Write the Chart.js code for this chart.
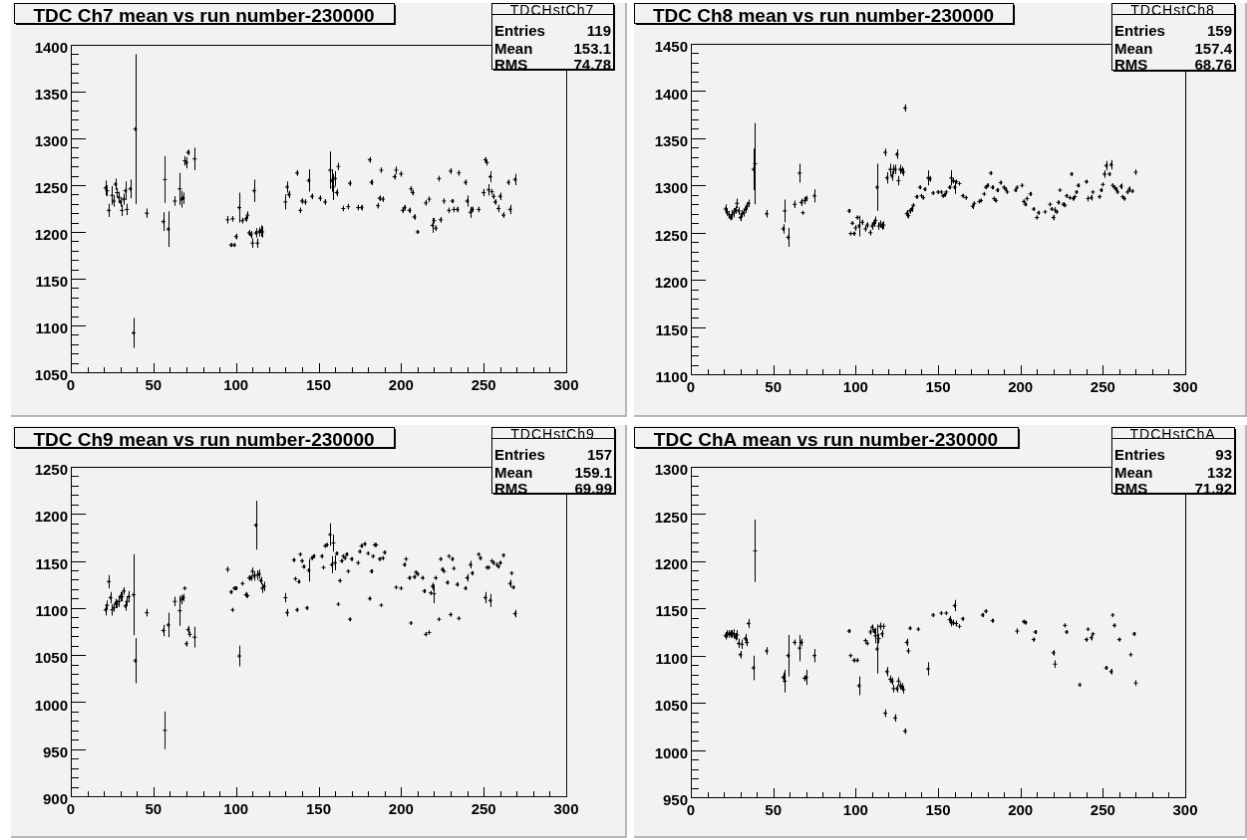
<!DOCTYPE html>
<html>
<head>
<meta charset="utf-8">
<title>TDC mean vs run number</title>
<script src="https://cdn.jsdelivr.net/npm/chart.js@4.4.1/dist/chart.umd.min.js"></script>
<style>
  body { margin: 0; background: #fff; width: 1247px; height: 840px; position: relative; overflow: hidden; }
  .pad { position: absolute; background: #f2f2f2; border-right: 2px solid #b8b8b8; border-bottom: 2px solid #b8b8b8; }
</style>
</head>
<body>
<canvas id="ch7" class="pad" width="616" height="414" style="left:11px;top:3px"></canvas>
<canvas id="ch8" class="pad" width="613" height="414" style="left:634px;top:3px"></canvas>
<canvas id="ch9" class="pad" width="616" height="413" style="left:11px;top:425px"></canvas>
<canvas id="chA" class="pad" width="613" height="413" style="left:634px;top:425px"></canvas>
<script>
// run number (minus 230000), mean TDC value, error on the mean
const ch7Run = [21, 22, 23, 25, 26, 27, 28, 29, 30, 31, 32, 33, 34, 36, 38, 39, 46, 56, 57, 59, 63, 66, 67, 68, 69, 70, 71, 75,
  95, 97, 98, 99, 100, 102, 104, 106, 107, 108, 109, 110, 111, 112, 113, 114, 115, 116, 130, 131, 132, 137, 139, 140, 142, 144, 146,
  151, 154, 157, 158, 159, 160, 161, 162, 165, 168, 169, 174, 176, 181, 182, 186, 187, 188, 189, 196, 197, 200, 201, 202, 205, 206,
  207, 208, 210, 215, 217, 219, 220, 221, 223, 224, 226, 229, 230, 231, 232, 234, 235, 239, 240, 242, 243, 247, 250, 251, 252, 253,
  254, 255, 256, 257, 259, 260, 262, 265, 266, 269];
const ch7Mean = [1247, 1244, 1223, 1239, 1233, 1251, 1242, 1237, 1232, 1223, 1235, 1244, 1224, 1246, 1092, 1310, 1220, 1211, 1256, 1203, 1233, 1246, 1235, 1236, 1276, 1274, 1285, 1278,
  1213, 1186, 1214, 1186, 1195, 1226, 1212, 1214, 1218, 1199, 1197, 1188, 1244, 1199, 1188, 1200, 1201, 1200, 1232, 1248, 1240, 1263, 1223, 1233, 1232, 1255, 1238,
  1236, 1232, 1266, 1255, 1248, 1257, 1242, 1270, 1225, 1227, 1252, 1226, 1226, 1277, 1253, 1228, 1236, 1266, 1235, 1259, 1266, 1262, 1223, 1226, 1223, 1246,
  1242, 1216, 1200, 1231, 1235, 1207, 1212, 1204, 1257, 1213, 1233, 1223, 1265, 1233, 1224, 1224, 1263, 1253, 1233, 1221, 1224, 1224, 1242, 1277, 1274, 1245,
  1259, 1243, 1238, 1232, 1225, 1238, 1218, 1253, 1224, 1256];
const ch7Err = [8, 6, 7, 10, 6, 6, 5, 6, 5, 6, 6, 10, 6, 10, 16, 80, 5, 10, 25, 19, 5, 17, 9, 6, 5, 6, 3, 12,
  4, 2, 3, 2, 3, 16, 3, 3, 4, 3, 4, 5, 12, 5, 5, 5, 6, 6, 8, 6, 4, 3, 3, 3, 3, 12, 3,
  3, 3, 20, 12, 14, 8, 4, 4, 3, 3, 3, 3, 3, 3, 3, 3, 3, 3, 3, 3, 4, 3, 3, 3, 3, 3,
  3, 3, 2, 3, 3, 8, 3, 3, 3, 3, 3, 3, 3, 2, 3, 3, 3, 3, 6, 6, 3, 3, 4, 3, 3, 6,
  6, 3, 3, 3, 4, 4, 3, 3, 5, 6];

const ch8Run = [21, 22, 23, 24, 25, 26, 27, 28, 29, 30, 31, 32, 33, 34, 35, 38, 39, 46, 56, 57, 59, 63, 66, 67, 68, 69, 70, 75,
  96, 97, 98, 99, 100, 101, 102, 104, 106, 107, 109, 110, 111, 112, 113, 114, 115, 116, 117, 118, 119, 121, 122, 123, 124, 125,
  126, 127, 128, 129, 130, 131, 132, 133, 134, 135, 137, 139, 140, 141, 142, 144, 145, 147, 150, 152, 153, 154, 155, 157, 158,
  159, 160, 161, 163, 165, 167, 171, 172, 175, 176, 178, 179, 180, 182, 183, 184, 185, 186, 188, 190, 191, 192, 197, 198, 201,
  202, 203, 204, 206, 208, 210, 211, 215, 218, 219, 220, 221, 222, 223, 224, 226, 227, 228, 230, 231, 232, 233, 234, 235, 240,
  241, 243, 244, 248, 249, 250, 251, 252, 254, 255, 256, 257, 258, 259, 261, 262, 263, 265, 266, 268, 270];
const ch8Mean = [1275, 1272, 1269, 1266, 1269, 1271, 1274, 1281, 1273, 1266, 1270, 1271, 1275, 1278, 1281, 1317, 1323, 1270, 1254, 1273, 1245, 1280, 1313, 1282, 1271, 1284, 1286, 1289,
  1273, 1249, 1260, 1249, 1255, 1266, 1257, 1261, 1254, 1258, 1250, 1257, 1260, 1263, 1298, 1257, 1259, 1257, 1258, 1335, 1308, 1317, 1310, 1317, 1317, 1333,
  1305, 1317, 1316, 1314, 1382, 1270, 1268, 1273, 1275, 1279, 1288, 1298, 1289, 1287, 1296, 1308, 1307, 1292, 1293, 1293, 1289, 1290, 1293, 1298, 1308,
  1305, 1298, 1304, 1302, 1289, 1287, 1278, 1281, 1283, 1284, 1291, 1298, 1300, 1313, 1298, 1286, 1284, 1295, 1303, 1298, 1296, 1293, 1295, 1298, 1300,
  1283, 1280, 1286, 1291, 1275, 1266, 1271, 1272, 1280, 1275, 1266, 1274, 1272, 1282, 1295, 1280, 1279, 1289, 1287, 1312, 1286, 1288, 1293, 1300, 1304,
  1286, 1287, 1293, 1288, 1295, 1301, 1312, 1321, 1312, 1322, 1300, 1298, 1296, 1293, 1299, 1288, 1286, 1293, 1296, 1294, 1314];
const ch8Err = [5, 4, 4, 3, 5, 5, 4, 5, 4, 4, 4, 4, 4, 4, 4, 22, 43, 4, 5, 12, 10, 4, 10, 4, 2, 4, 3, 7,
  2, 2, 2, 2, 3, 2, 11, 3, 3, 3, 3, 4, 4, 4, 25, 4, 4, 4, 4, 4, 6, 6, 5, 5, 5, 5,
  5, 5, 4, 4, 4, 4, 3, 3, 3, 2, 2, 2, 2, 2, 2, 8, 3, 2, 2, 2, 2, 2, 2, 2, 8,
  3, 7, 2, 2, 2, 2, 3, 2, 2, 2, 2, 2, 2, 2, 2, 2, 2, 2, 2, 2, 2, 2, 2, 2, 2,
  2, 2, 2, 2, 2, 2, 2, 2, 2, 2, 3, 3, 2, 2, 2, 2, 2, 2, 2, 2, 2, 2, 2, 2, 2,
  3, 3, 2, 2, 2, 2, 4, 5, 2, 5, 2, 2, 2, 2, 3, 2, 2, 2, 3, 2, 3];

const ch9Run = [21, 22, 23, 24, 25, 26, 27, 28, 29, 30, 31, 32, 33, 34, 35, 38, 39, 46, 56, 57, 59, 63, 66, 67, 68, 69, 70, 71, 72, 75,
  95, 97, 98, 99, 100, 102, 104, 106, 107, 108, 109, 110, 111, 112, 113, 114, 115, 116, 117, 130, 131, 135, 136, 137, 138, 139,
  140, 141, 143, 144, 146, 147, 152, 153, 154, 155, 157, 158, 159, 160, 161, 162, 163, 164, 165, 166, 167, 168, 169, 170, 174,
  175, 176, 178, 180, 181, 182, 183, 184, 185, 187, 188, 189, 190, 197, 200, 202, 203, 205, 206, 208, 209, 210, 213, 214, 215,
  217, 218, 219, 220, 221, 223, 224, 225, 226, 228, 229, 230, 231, 232, 234, 235, 239, 240, 242, 243, 247, 248, 251, 252, 253,
  254, 255, 256, 258, 259, 260, 262, 266, 267, 268, 269];
const ch9Mean = [1098, 1103, 1128, 1111, 1098, 1100, 1105, 1104, 1107, 1112, 1112, 1118, 1102, 1107, 1112, 1114, 1044, 1095, 1076, 970, 1082, 1107, 1097, 1109, 1111, 1121, 1062, 1077, 1072, 1069,
  1141, 1117, 1098, 1121, 1121, 1049, 1126, 1114, 1113, 1132, 1132, 1139, 1134, 1188, 1135, 1136, 1129, 1121, 1123, 1111, 1095, 1151, 1131, 1098, 1128, 1157,
  1150, 1144, 1100, 1140, 1153, 1155, 1155, 1143, 1166, 1167, 1178, 1146, 1169, 1148, 1158, 1104, 1129, 1150, 1155, 1153, 1157, 1139, 1088, 1152, 1148,
  1160, 1166, 1168, 1158, 1110, 1139, 1155, 1167, 1167, 1152, 1103, 1153, 1159, 1122, 1121, 1146, 1152, 1132, 1084, 1133, 1138, 1136, 1132, 1118, 1072,
  1074, 1116, 1123, 1115, 1132, 1088, 1152, 1141, 1139, 1127, 1155, 1093, 1152, 1142, 1125, 1089, 1121, 1132, 1146, 1137, 1157, 1153, 1111, 1143, 1143,
  1108, 1150, 1148, 1146, 1144, 1148, 1156, 1126, 1137, 1122, 1094];
const ch9Err = [6, 5, 7, 6, 6, 4, 5, 4, 6, 5, 5, 4, 5, 5, 6, 43, 24, 4, 6, 20, 13, 5, 16, 5, 4, 2, 3, 4, 3, 11,
  3, 2, 2, 2, 2, 11, 2, 3, 2, 3, 3, 4, 5, 26, 5, 5, 4, 5, 5, 5, 4, 2, 2, 2, 2, 2,
  2, 2, 2, 12, 2, 2, 2, 2, 2, 2, 12, 9, 9, 8, 2, 2, 2, 2, 2, 2, 2, 2, 2, 2, 2,
  2, 2, 2, 2, 2, 2, 2, 2, 2, 2, 2, 2, 2, 2, 2, 2, 2, 2, 2, 2, 2, 2, 2, 2, 2,
  2, 2, 4, 10, 2, 2, 2, 2, 2, 2, 2, 2, 2, 2, 2, 2, 2, 4, 4, 2, 2, 2, 6, 2, 2,
  7, 2, 2, 2, 2, 2, 2, 4, 2, 2, 4];

const chARun = [21, 22, 23, 24, 25, 26, 27, 28, 29, 30, 31, 33, 34, 35, 38, 39, 46, 56, 57, 59, 63, 66, 67, 69, 70, 75,
  96, 97, 99, 101, 102, 106, 107, 109, 110, 111, 112, 113, 114, 115, 116, 117, 118, 119, 121, 122, 123, 124, 125, 126, 127,
  128, 129, 130, 131, 132, 133, 138, 144, 147, 152, 155, 157, 158, 159, 160, 161, 163, 165, 177, 179, 183, 198, 202, 203,
  208, 209, 220, 221, 227, 228, 236, 240, 241, 243, 244, 252, 255, 256, 257, 260, 267, 269, 270];
const chAMean = [1121, 1123, 1123, 1123, 1123, 1123, 1120, 1122, 1113, 1101, 1112, 1118, 1114, 1134, 1087, 1211, 1105, 1077, 1073, 1100, 1114, 1108, 1114, 1076, 1077, 1100,
  1126, 1100, 1095, 1095, 1068, 1116, 1113, 1125, 1130, 1126, 1121, 1107, 1118, 1131, 1123, 1131, 1039, 1083, 1075, 1073, 1065, 1034, 1065, 1073, 1068,
  1067, 1064, 1020, 1114, 1105, 1129, 1128, 1086, 1143, 1145, 1145, 1138, 1135, 1135, 1153, 1134, 1131, 1139, 1143, 1147, 1137, 1126, 1136, 1135,
  1117, 1125, 1103, 1091, 1132, 1125, 1069, 1117, 1128, 1119, 1123, 1087, 1083, 1143, 1132, 1117, 1101, 1123, 1071];
const chAErr = [4, 4, 4, 4, 4, 5, 4, 5, 5, 4, 5, 5, 4, 5, 13, 33, 4, 5, 12, 22, 3, 14, 4, 3, 8, 7,
  2, 2, 2, 2, 10, 2, 2, 3, 3, 3, 8, 26, 5, 4, 4, 3, 4, 5, 4, 4, 4, 4, 4, 4, 4,
  4, 4, 3, 4, 3, 2, 2, 7, 2, 2, 2, 4, 4, 3, 6, 3, 2, 2, 2, 2, 2, 3, 2, 2,
  2, 2, 3, 4, 2, 2, 2, 2, 2, 3, 2, 2, 3, 2, 2, 2, 2, 2, 3];

// axis ranges and box texts, one entry per pad (Ch7, Ch8, Ch9, ChA)
const yMins = [1050, 1100, 900, 950];
const yMaxs = [1400, 1450, 1250, 1300];
const titles = ["TDC Ch7 mean vs run number-230000", "TDC Ch8 mean vs run number-230000",
  "TDC Ch9 mean vs run number-230000", "TDC ChA mean vs run number-230000"];
const statNames = ["TDCHstCh7", "TDCHstCh8", "TDCHstCh9", "TDCHstChA"];
const statEntries = ["119", "159", "157", "93"];
const statMeans = ["153.1", "157.4", "159.1", "132"];
const statRms = ["74.78", "68.76", "69.99", "71.92"];

const FONT = "'Liberation Sans', Arial, Helvetica, sans-serif";
const PAD_FILL = "#f2f2f2";

function drawBox(ctx, b) {
  ctx.fillStyle = PAD_FILL;
  ctx.fillRect(b.x, b.y, b.w, b.h);
  ctx.fillStyle = "#000";
  ctx.fillRect(b.x + 2, b.y + b.h, b.w, 2);
  ctx.fillRect(b.x + b.w, b.y + 2, 2, b.h);
  ctx.strokeStyle = "#000";
  ctx.lineWidth = 1;
  ctx.strokeRect(b.x + 0.5, b.y + 0.5, b.w, b.h);
}

const rootPad = {
  id: "rootPad",
  beforeDatasetsDraw(chart) {
    // frame and inward ROOT-style ticks
    const { ctx, chartArea: a, scales } = chart;
    const xs = scales.x;
    const ys = scales.y;
    ctx.save();
    ctx.strokeStyle = "#000";
    ctx.lineWidth = 1;
    ctx.strokeRect(a.left + 0.5, a.top + 0.5, a.right - a.left, a.bottom - a.top);
    ctx.beginPath();
    for (let v = xs.min; v <= xs.max; v += 10) {
      const px = Math.round(xs.getPixelForValue(v)) + 0.5;
      const len = v % 50 === 0 ? 9 : 5;
      ctx.moveTo(px, a.bottom);
      ctx.lineTo(px, a.bottom - len);
    }
    for (let v = ys.min; v <= ys.max; v += 10) {
      const py = Math.round(ys.getPixelForValue(v)) + 0.5;
      const len = (v - ys.min) % 50 === 0 ? 15 : 8;
      ctx.moveTo(a.left, py);
      ctx.lineTo(a.left + len, py);
    }
    ctx.stroke();
    ctx.restore();
  },
  afterDatasetsDraw(chart) {
    // vertical error bars
    const { ctx, scales } = chart;
    const ds = chart.data.datasets[0];
    const meta = chart.getDatasetMeta(0);
    ctx.save();
    ctx.strokeStyle = "#000";
    ctx.lineWidth = 1;
    ctx.beginPath();
    meta.data.forEach((pt, i) => {
      const px = Math.round(pt.x) + 0.5;
      const y = ds.data[i].y;
      ctx.moveTo(px, scales.y.getPixelForValue(y + ds.errors[i]));
      ctx.lineTo(px, scales.y.getPixelForValue(y - ds.errors[i]));
    });
    ctx.stroke();
    ctx.restore();
  },
  afterDraw(chart, args, opts) {
    const ctx = chart.ctx;
    ctx.save();
    const t = opts.titleBox;
    drawBox(ctx, t);
    ctx.fillStyle = "#000";
    ctx.font = "bold 19px " + FONT;
    ctx.textAlign = "center";
    ctx.textBaseline = "alphabetic";
    ctx.fillText(opts.title, t.x + t.w / 2, t.y + 19);

    const s = opts.statBox;
    drawBox(ctx, s);
    ctx.fillStyle = "#000";
    ctx.font = "14px " + FONT;
    ctx.letterSpacing = "1px";
    ctx.fillText(opts.name, s.x + s.w / 2, s.y + 12);
    ctx.letterSpacing = "0px";
    ctx.beginPath();
    ctx.moveTo(s.x, s.y + 11.5);
    ctx.lineTo(s.x + s.w, s.y + 11.5);
    ctx.stroke();
    ctx.font = "bold 15px " + FONT;
    const rows = [["Entries", opts.entries, 33], ["Mean", opts.mean, 51], ["RMS", opts.rms, 67]];
    rows.forEach(([label, value, base]) => {
      ctx.textAlign = "left";
      ctx.fillText(label, s.x + 3, s.y + base);
      ctx.textAlign = "right";
      ctx.fillText(value, s.x + s.w - 2, s.y + base);
    });
    ctx.strokeRect(s.x + 0.5, s.y + 0.5, s.w, s.h);
    ctx.restore();
  }
};

const pads = [
  { id: "ch7", run: ch7Run, mean: ch7Mean, err: ch7Err, frame: { l: 60, t: 42, r: 557, b: 371 },
    titleBox: { x: 3, y: 0, w: 381, h: 20 }, statBox: { x: 482, y: 0, w: 122, h: 66 } },
  { id: "ch8", run: ch8Run, mean: ch8Mean, err: ch8Err, frame: { l: 57, t: 41, r: 553, b: 373 },
    titleBox: { x: 0, y: 0, w: 380, h: 20 }, statBox: { x: 479, y: 0, w: 123, h: 67 } },
  { id: "ch9", run: ch9Run, mean: ch9Mean, err: ch9Err, frame: { l: 60, t: 42, r: 557, b: 373 },
    titleBox: { x: 3, y: 2, w: 381, h: 20 }, statBox: { x: 482, y: 2, w: 123, h: 66 } },
  { id: "chA", run: chARun, mean: chAMean, err: chAErr, frame: { l: 57, t: 42, r: 553, b: 374 },
    titleBox: { x: 0, y: 2, w: 385, h: 20 }, statBox: { x: 479, y: 2, w: 123, h: 66 } }
];

const tickFont = { family: FONT, size: 15, weight: "bold" };

pads.forEach((p, k) => {
  const canvas = document.getElementById(p.id);
  const W = canvas.width;
  const H = canvas.height;
  new Chart(canvas, {
    type: "scatter",
    data: {
      datasets: [
        {
          data: p.run.map((r, i) => ({ x: r, y: p.mean[i] })),
          errors: p.err,
          pointStyle: "cross",
          pointRadius: 2,
          pointBorderWidth: 1,
          borderColor: "#000",
          backgroundColor: "#000",
        },
      ],
    },
    options: {
      responsive: false,
      animation: false,
      events: [],
      layout: { padding: { left: 0, top: p.frame.t, right: W - p.frame.r, bottom: 0 } },
      plugins: {
        legend: { display: false },
        tooltip: { enabled: false },
        rootPad: {
          title: titles[k], name: statNames[k], entries: statEntries[k], mean: statMeans[k], rms: statRms[k],
          titleBox: p.titleBox, statBox: p.statBox,
        },
      },
      scales: {
        x: {
          type: "linear", min: 0, max: 300,
          grid: { display: false, drawTicks: false },
          border: { display: false },
          ticks: { stepSize: 50, color: "#000", font: tickFont, padding: 5, maxRotation: 0, autoSkip: false, callback: (v) => String(v) },
          afterFit: (s) => { s.height = H - p.frame.b; },
        },
        y: {
          type: "linear", min: yMins[k], max: yMaxs[k],
          grid: { display: false, drawTicks: false },
          border: { display: false },
          ticks: { stepSize: 50, color: "#000", font: tickFont, padding: 3, labelOffset: 4, autoSkip: false, callback: (v) => String(v) },
          afterFit: (s) => { s.width = p.frame.l; },
        },
      },
    },
    plugins: [rootPad],
  });
});
</script>
</body>
</html>
